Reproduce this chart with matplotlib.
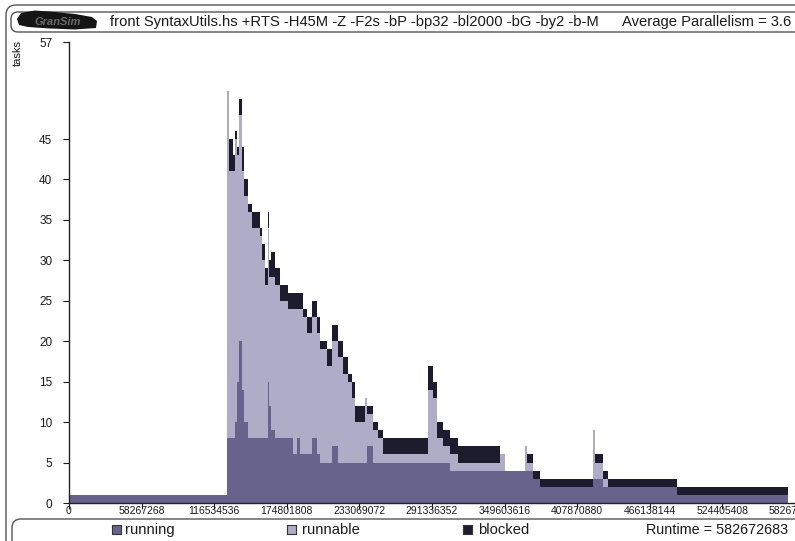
import numpy as np
import matplotlib
matplotlib.use("Agg")
import matplotlib.pyplot as plt
from matplotlib.patches import FancyBboxPatch, Polygon, Rectangle

plt.rcParams['font.family'] = ['Liberation Sans', 'DejaVu Sans']

# ---- activity profile data -------------------------------------------------
runtime = 582672683
# start of each interval (millions of cycles); last entry closes the final interval
t_edges_m = [0, 126.8, 128.4, 131.6, 133.2, 134.8, 136.4, 138.8, 140.5, 143.7,
             146.9, 153.3, 154.9, 157.3, 159.7, 160.9, 162.1, 165.3, 169.3, 175.8,
             179.8, 183.0, 185.4, 187.8, 191.0, 195.0, 199.0, 201.4, 207.1, 211.1,
             215.9, 219.9, 223.9, 227.1, 229.5, 237.6, 238.8, 244.0, 248.0, 252.0,
             288.1, 292.1, 295.4, 300.2, 305.8, 312.2, 345.9, 349.9, 366.0, 367.6,
             372.4, 378.0, 420.6, 422.2, 428.6, 432.6, 488.0, 577.1]
running = [1, 8, 8, 8, 10, 15, 20, 14, 10, 8,
           8, 8, 8, 8, 15, 12, 9, 8, 8, 8,
           6, 8, 6, 6, 6, 8, 6, 5, 5, 7,
           5, 5, 5, 5, 5, 5, 7, 5, 5, 5,
           5, 5, 5, 5, 4, 4, 4, 4, 4, 4,
           3, 2, 3, 3, 2, 2, 1]
runnable = [0, 43, 33, 33, 35, 28, 28, 27, 28, 28,
            26, 25, 22, 19, 19, 16, 19, 19, 17, 16,
            18, 16, 18, 17, 15, 15, 15, 14, 12, 13,
            13, 11, 10, 8, 5, 8, 4, 4, 3, 1,
            9, 8, 3, 2, 2, 1, 2, 0, 3, 1,
            0, 0, 6, 2, 1, 0, 0]
blocked = [0, 0, 4, 2, 1, 1, 2, 3, 2, 1,
           2, 1, 2, 2, 2, 2, 3, 2, 2, 2,
           2, 2, 2, 1, 2, 2, 2, 1, 2, 2,
           2, 2, 1, 2, 2, 0, 1, 1, 1, 2,
           3, 2, 2, 2, 2, 2, 0, 0, 0, 1,
           1, 1, 0, 1, 1, 1, 1]

x_tick_labels = ["0", "58267268", "116534536", "174801808", "233069072",
                 "291336352", "349603616", "407870880", "466138144",
                 "524405408", "582672704"]
y_ticks = [0, 5, 10, 15, 20, 25, 30, 35, 40, 45, 57]

title = "front SyntaxUtils.hs +RTS -H45M -Z -F2s -bP -bp32 -bl2000 -bG -by2 -b-M"
avg_par = "Average Parallelism = 3.6"
legend_names = ["running", "runnable", "blocked"]

# ---- styling ---------------------------------------------------------------
C_RUN = "#67638c"
C_RUNNABLE = "#aeacc6"
C_BLOCKED = "#1d1b2e"
C_TEXT = "#1a1a1a"
C_FRAME = "#555555"

W, H = 795, 541
fig = plt.figure(figsize=(W / 100, H / 100), dpi=100)
fig.patch.set_facecolor("white")

# overlay in pixel coordinates for frames and header/footer text
ov = fig.add_axes([0, 0, 1, 1], zorder=0)
ov.set_xlim(0, W)
ov.set_ylim(H, 0)
ov.axis("off")

def rbox(x0, y0, x1, y1, r, **kw):
    p = FancyBboxPatch((x0 + r, y0 + r), (x1 - x0) - 2 * r, (y1 - y0) - 2 * r,
                       boxstyle=f"round,pad={r}", fill=False,
                       edgecolor=C_FRAME, linewidth=1.0, **kw)
    ov.add_patch(p)

rbox(6, 5, 820, 575, 10)          # outer frame
rbox(11, 12, 820, 32, 7)          # header box
rbox(12, 519, 820, 570, 9)        # footer box

# header logo stroke
logo = Polygon([(17, 19), (21, 13), (35, 10.5), (55, 12), (75, 14), (92, 17),
                (97, 21), (96, 28), (75, 29.5), (50, 28.5), (28, 27), (19, 25)],
               closed=True, facecolor="#151515", edgecolor="none")
ov.add_patch(logo)
ov.text(58, 22, "GranSim", fontsize=8, color="#6a6a6a", ha="center",
        va="center", style="italic", fontweight="bold")

ov.text(110, 22, title, fontsize=10.6, color=C_TEXT, ha="left", va="center")
ov.text(622, 22, avg_par, fontsize=10.6, color=C_TEXT, ha="left", va="center")

# footer legend
sw_x = [112, 287, 463]
txt_x = [125, 302, 478]
for name, col, sx, tx in zip(legend_names, [C_RUN, C_RUNNABLE, C_BLOCKED], sw_x, txt_x):
    ov.add_patch(Rectangle((sx, 525), 9, 8.5, facecolor=col,
                           edgecolor="#333333", linewidth=0.8))
    ov.text(tx, 530, name, fontsize=10.6, color=C_TEXT, ha="left", va="center")
ov.text(788, 530, f"Runtime = {runtime}", fontsize=10.4, color=C_TEXT,
        ha="right", va="center")

ov.text(17.5, 53, "tasks", fontsize=8, color=C_TEXT, rotation=90,
        ha="center", va="center")

# ---- main plot -------------------------------------------------------------
ax_l, ax_r, ax_t, ax_b = 69, 795, 42, 503
ax = fig.add_axes([ax_l / W, 1 - ax_b / H, (ax_r - ax_l) / W, (ax_b - ax_t) / H],
                  zorder=1)
ax.set_facecolor("none")

edges = np.array(t_edges_m) * 1e6
run = np.array(running, dtype=float)
rnb = np.array(runnable, dtype=float)
blk = np.array(blocked, dtype=float)

ax.stairs(run, edges, baseline=0, fill=True, color=C_RUN, linewidth=0)
ax.stairs(run + rnb, edges, baseline=run, fill=True, color=C_RUNNABLE, linewidth=0)
ax.stairs(run + rnb + blk, edges, baseline=run + rnb, fill=True, color=C_BLOCKED,
          linewidth=0)

ax.set_xlim(0, runtime)
ax.set_ylim(0, 57)
for s in ("top", "right"):
    ax.spines[s].set_visible(False)
for s in ("left", "bottom"):
    ax.spines[s].set_color("#222222")
    ax.spines[s].set_linewidth(1.0)

ax.set_xticks([k * runtime / 10 for k in range(11)])
ax.set_xticklabels(x_tick_labels)
ax.set_yticks(y_ticks)
ax.set_yticklabels([str(v) for v in y_ticks])
ax.tick_params(axis="x", direction="out", length=4, width=0.8, pad=-1.5,
               labelsize=7.5, colors=C_TEXT)
ax.tick_params(axis="y", direction="out", length=4, width=0.8, pad=8,
               labelsize=8.5, colors=C_TEXT)

fig.savefig("out.png", dpi=100, facecolor="white")
